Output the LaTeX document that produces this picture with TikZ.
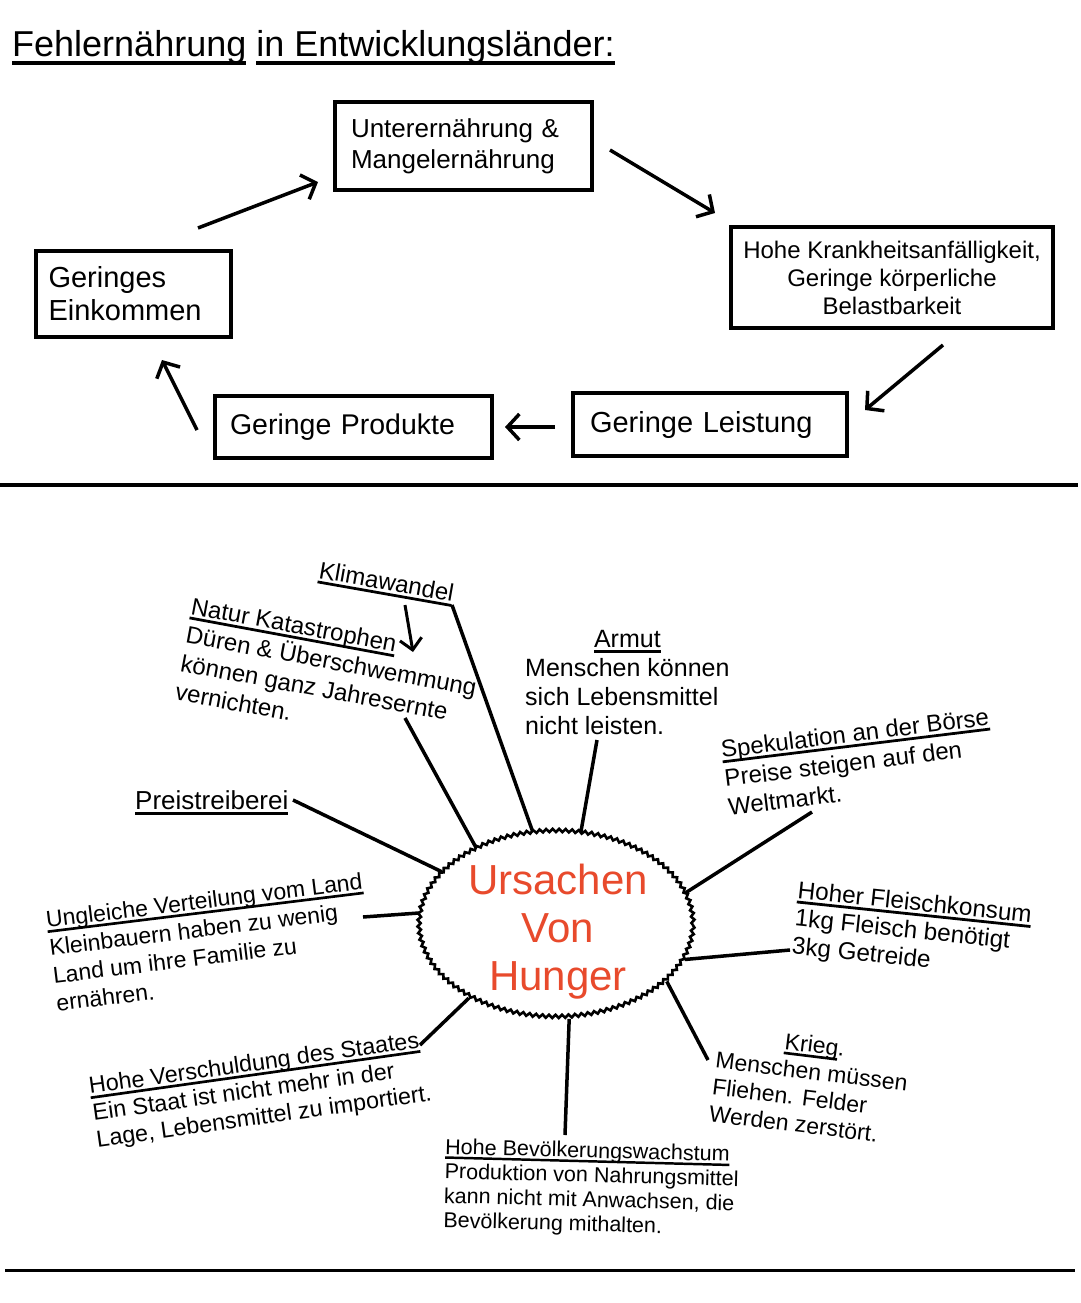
\documentclass[tikz,border=0pt]{standalone}
\usepackage{fontspec}
\setmainfont{Liberation Sans}
\usetikzlibrary{arrows.meta,shapes.geometric,decorations.pathmorphing}
\definecolor{hungerred}{RGB}{232,74,44}
\newcommand\fs[2]{\fontsize{#1}{#2}\selectfont}
\newcommand\myul[1]{\leavevmode\setbox0\hbox{#1}\rlap{\rule[-0.22em]{\wd0}{0.115em}}\box0\relax}
\tikzset{
  box/.style={draw, line width=4pt, inner sep=0pt},
  cyc/.style={line width=3.5pt, -{Straight Barb[length=12pt,width=26pt]}},
  spoke/.style={line width=3.5pt},
  lbl/.style={inner sep=0pt, anchor=base west},
}
\begin{document}
\begin{tikzpicture}[x=1pt,y=-1pt]
\useasboundingbox (0,0) rectangle (1080,1303);
\fill[white] (0,0) rectangle (1080,1303);

% title
\node[lbl, font=\fs{36}{42}] (title) at (12,57) {\myul{Fehlernährung} \myul{in Entwicklungs}\myul{länder:}};

% cycle boxes
\node[box, minimum width=257, minimum height=88, text width=225, align=left, font=\fs{26}{31}] (unter) at (463.5,146) {Unterernährung \&\\Mangelernährung};
\node[box, minimum width=322, minimum height=101, align=center, font=\fs{24}{28}] (krank) at (892,277.5) {Hohe Krankheitsanfälligkeit,\\Geringe körperliche\\Belastbarkeit};
\node[box, minimum width=274, minimum height=63, text width=240, align=left, font=\fs{29}{33}] (leistung) at (710,424.5) {Geringe Leistung};
\node[box, minimum width=277, minimum height=62, text width=247, align=left, font=\fs{28.5}{33}] (produkte) at (353.5,427) {Geringe Produkte};
\node[box, minimum width=195, minimum height=86, text width=170, align=left, font=\fs{29}{33}] (einkommen) at (133.5,294) {Geringes\\Einkommen};

% cycle arrows
\coordinate (a1s) at (198,228); \coordinate (a1e) at (318,182);
\coordinate (a2s) at (610,150); \coordinate (a2e) at (715,213);
\coordinate (a3s) at (943,345); \coordinate (a3e) at (865,410);
\coordinate (a4s) at (555,427); \coordinate (a4e) at (505,427);
\coordinate (a5s) at (197,430); \coordinate (a5e) at (162,360);
\draw[cyc] (a1s) -- (a1e);
\draw[cyc] (a2s) -- (a2e);
\draw[cyc] (a3s) -- (a3e);
\draw[cyc] (a4s) -- (a4e);
\draw[cyc] (a5s) -- (a5e);

% separators
\coordinate (sepAl) at (0,485); \coordinate (sepAr) at (1078,485);
\coordinate (sepBl) at (5,1270); \coordinate (sepBr) at (1075,1270);
\draw[line width=3.5pt] (sepAl) -- (sepAr);
\draw[line width=3pt] (sepBl) -- (sepBr);

% centre
\node[ellipse, draw, line width=2.6pt, minimum width=274, minimum height=186, inner sep=0pt,
      decorate, decoration={snake, segment length=6.5pt, amplitude=1.6pt}] (hunger) at (556,925) {};
\node[align=center, text=hungerred, font=\fs{42}{48}, inner sep=0pt] (hungertext) at (558,932) {Ursachen\\Von\\Hunger};

% labels
\node[lbl, rotate=-10, font=\fs{24}{29}] (klima) at (318,578) {\myul{Klimawandel}};
\node[lbl, rotate=-10.5, font=\fs{24}{29}] (natur) at (190,614) {\begin{tabular}[t]{@{}l@{}}\myul{Natur Katastrophen}\\Düren \& Überschwemmung\\können ganz Jahresernte\\vernichten.\end{tabular}};
\node[lbl, font=\fs{25}{29}] (armut) at (525,647) {\begin{tabular}[t]{@{}l@{}}\multicolumn{1}{@{}c@{}}{\myul{Armut}}\\Menschen können\\sich Lebensmittel\\nicht leisten.\end{tabular}};
\node[lbl, rotate=7, font=\fs{24}{29}] (spek) at (722,758) {\begin{tabular}[t]{@{}l@{}}\myul{Spekulation an der Börse}\\Preise steigen auf den\\Weltmarkt.\end{tabular}};
\node[lbl, font=\fs{26}{29}] (preis) at (135,809) {\myul{Preistreiberei}};
\node[lbl, rotate=7, font=\fs{23}{28}] (ungleich) at (47,928) {\begin{tabular}[t]{@{}l@{}}\myul{Ungleiche Verteilung vom Land}\\Kleinbauern haben zu wenig\\Land um ihre Familie zu\\ernähren.\end{tabular}};
\node[lbl, rotate=-6, font=\fs{24.3}{28}] (fleisch) at (797,898) {\begin{tabular}[t]{@{}l@{}}\myul{Hoher Fleischkonsum}\\1kg Fleisch benötigt\\3kg Getreide\end{tabular}};
\node[lbl, rotate=8, font=\fs{23.3}{27}] (schuld) at (90,1094) {\begin{tabular}[t]{@{}l@{}}\myul{Hohe Verschuldung des Staates}\\Ein Staat ist nicht mehr in der\\Lage, Lebensmittel zu importiert.\end{tabular}};
\node[lbl, rotate=-1.5, font=\fs{21.5}{24.5}] (bev) at (445,1154) {\begin{tabular}[t]{@{}l@{}}\myul{Hohe Bevölkerungswachstum}\\Produktion von Nahrungsmittel\\kann nicht mit Anwachsen, die\\Bevölkerung mithalten.\end{tabular}};
\node[lbl, rotate=-7, font=\fs{23}{27}] (krieg) at (718,1041) {\begin{tabular}[t]{@{}l@{}}\multicolumn{1}{@{}c@{}}{\myul{Krieg}.}\\Menschen müssen\\Fliehen. Felder\\Werden zerstört.\end{tabular}};

% Klimawandel -> Natur arrow
\coordinate (kas) at (405,605); \coordinate (kae) at (413,652);
\draw[line width=3pt, -{Straight Barb[length=11pt,width=22pt]}] (kas) -- (kae);

% spokes
\coordinate (s1) at (452,605);
\coordinate (s2) at (405,718);
\coordinate (s3) at (597,740);
\coordinate (s4) at (293,800);
\coordinate (s5) at (812,812);
\coordinate (s6) at (363,917);
\coordinate (s7) at (790,950);
\coordinate (s8) at (420,1045);
\coordinate (s9) at (708,1060);
\coordinate (s10) at (565,1135);
\draw[spoke] (s1) -- (hunger.104.7);
\draw[spoke] (s2) -- (hunger.136);
\draw[spoke] (s3) -- (hunger.75);
\draw[spoke] (s4) -- (hunger.155);
\draw[spoke] (s5) -- (hunger.14.5);
\draw[spoke] (s6) -- (hunger.175);
\draw[spoke] (s7) -- (hunger.-15.7);
\draw[spoke] (s8) -- (hunger.220);
\draw[spoke] (s9) -- (hunger.-27.5);
\draw[spoke] (s10) -- (hunger.-82);
\end{tikzpicture}
\end{document}
